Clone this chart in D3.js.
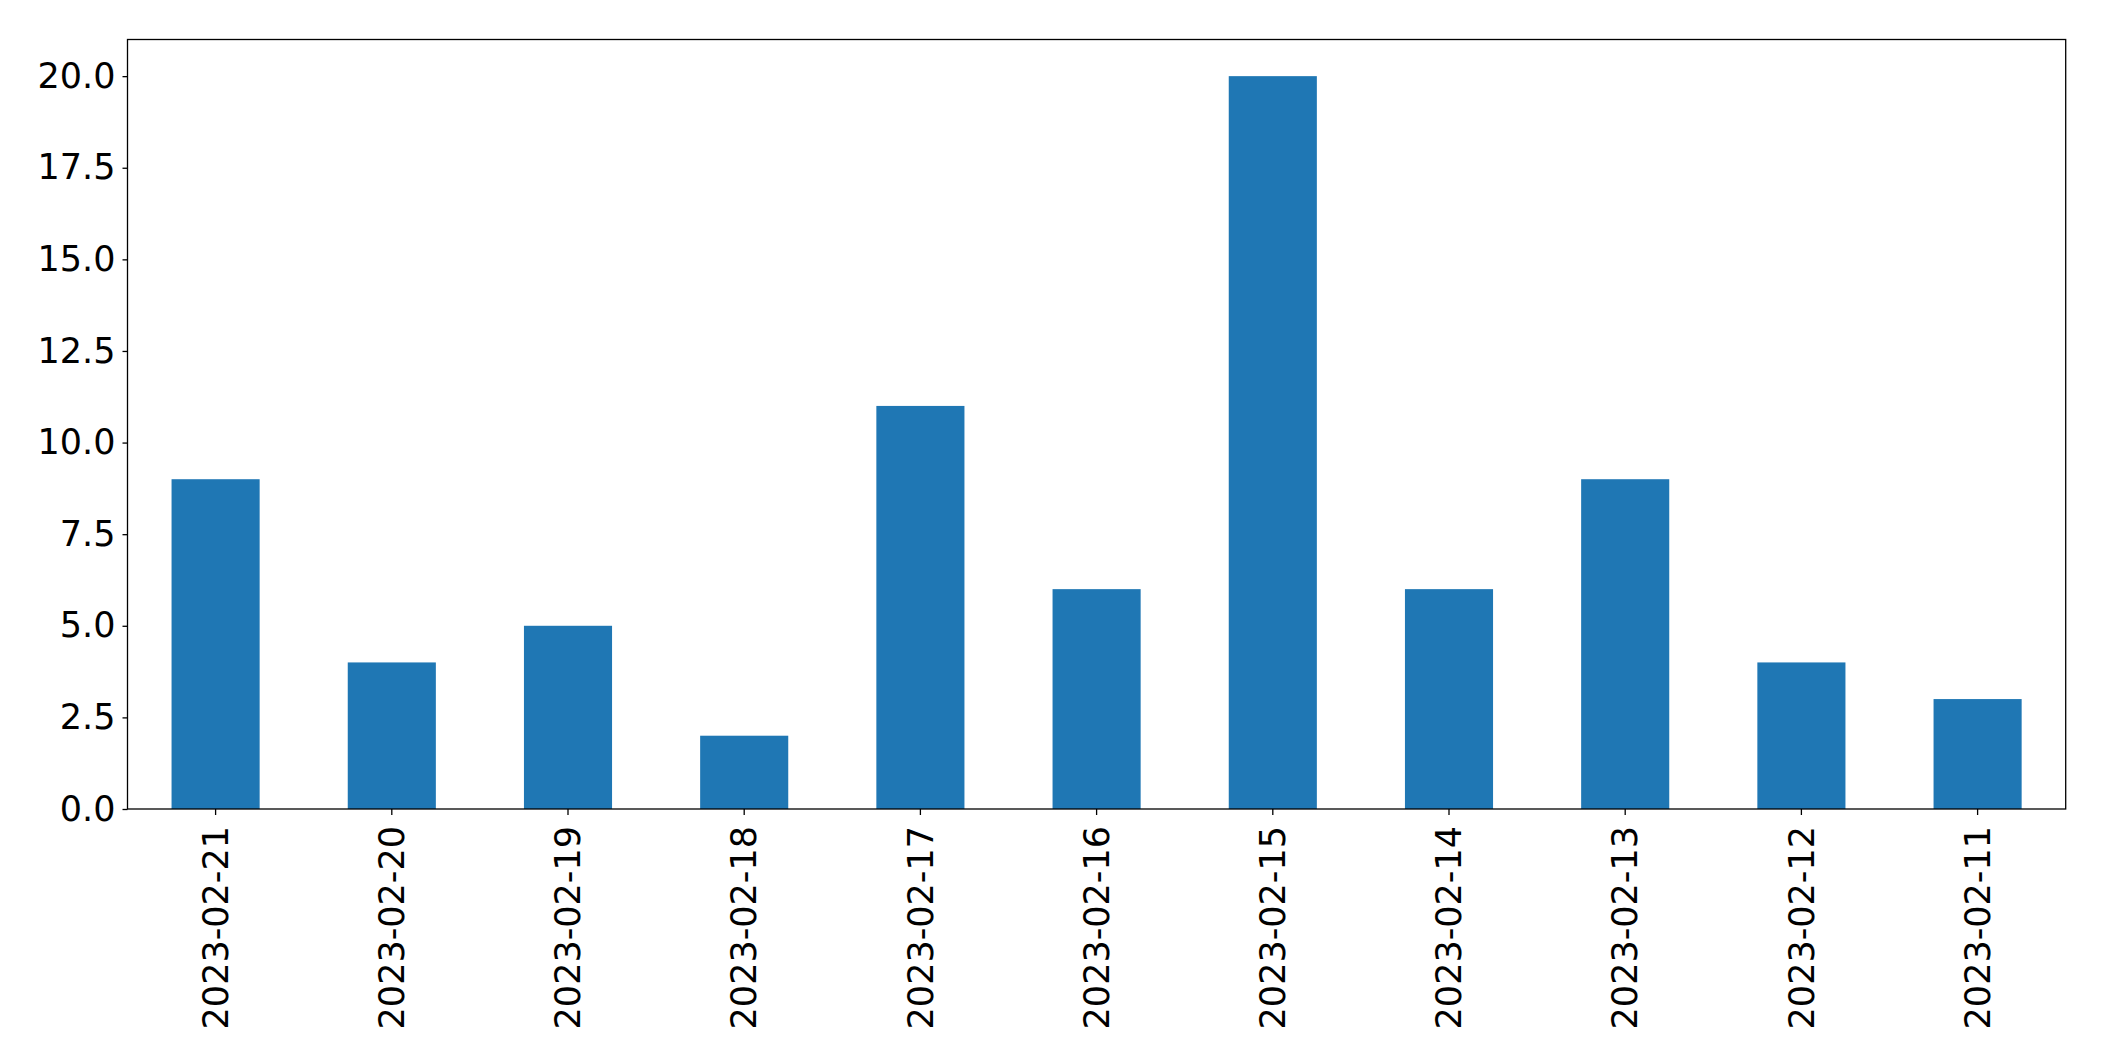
<!DOCTYPE html>
<html><head><meta charset="utf-8">
<script src="https://cdn.jsdelivr.net/npm/d3@7"></script>
<style>body{margin:0;background:#fff;} svg{display:block;}</style>
</head><body>
<svg id="c" width="2104" height="1061"></svg>
<script>
const categories = ["2023-02-21","2023-02-20","2023-02-19","2023-02-18","2023-02-17","2023-02-16","2023-02-15","2023-02-14","2023-02-13","2023-02-12","2023-02-11"];
const values = [9,4,5,2,11,6,20,6,9,4,3];
const yTicks = [0,2.5,5,7.5,10,12.5,15,17.5,20];

const svg = d3.select("#c");
const m = {left:127.5, top:39.5, right:2065.7, bottom:809};
const x = d3.scaleBand().domain(categories).range([m.left,m.right]).paddingInner(0.5).paddingOuter(0.25);
const y = d3.scaleLinear().domain([0,21]).range([m.bottom,m.top]);

svg.append("g").selectAll("rect").data(values).join("rect")
  .attr("x",(d,i)=>x(categories[i])).attr("width",x.bandwidth())
  .attr("y",d=>y(d)).attr("height",d=>y(0)-y(d)).attr("fill","#1f77b4");

const font = "DejaVu Sans";
const ya = svg.append("g").attr("transform",`translate(${m.left},0)`)
  .call(d3.axisLeft(y).tickValues(yTicks).tickFormat(d3.format(".1f")).tickSize(5).tickPadding(7));
ya.select(".domain").remove();
ya.selectAll("text").attr("font-family",font).attr("font-size",35).attr("fill","#000");
ya.selectAll("line").attr("stroke","#000").attr("stroke-width",1.3);

const xa = svg.append("g").attr("transform",`translate(0,${m.bottom})`)
  .call(d3.axisBottom(x).tickSize(6).tickPadding(0));
xa.select(".domain").remove();
xa.selectAll("line").attr("stroke","#000").attr("stroke-width",1.3);
xa.selectAll("text").attr("font-family",font).attr("font-size",35).attr("fill","#000")
  .attr("transform","rotate(-90)").attr("text-anchor","end").attr("dy","0.35em").attr("x",-17).attr("y",0);

svg.append("rect").attr("x",m.left).attr("y",m.top).attr("width",m.right-m.left).attr("height",m.bottom-m.top)
  .attr("fill","none").attr("stroke","#000").attr("stroke-width",1.3);
</script>
</body></html>
